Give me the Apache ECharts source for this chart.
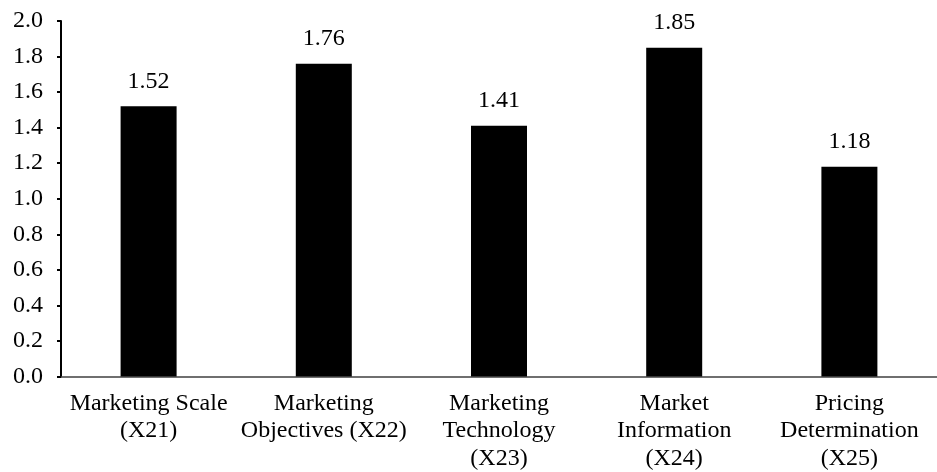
<!DOCTYPE html>
<html>
<head>
<meta charset="utf-8">
<script src="https://cdn.jsdelivr.net/npm/echarts@6/dist/echarts.min.js"></script>
<style>html,body{margin:0;padding:0;background:#fff}#c{width:937px;height:472px}</style>
</head>
<body>
<div id="c"></div>
<script>
var categories = ["Marketing Scale\n(X21)", "Marketing\nObjectives (X22)", "Marketing\nTechnology\n(X23)", "Market\nInformation\n(X24)", "Pricing\nDetermination\n(X25)"];
var values = [1.52, 1.76, 1.41, 1.85, 1.18];
var yTicks = [0, 0.2, 0.4, 0.6, 0.8, 1.0, 1.2, 1.4, 1.6, 1.8, 2.0];

var font = "'Liberation Serif', 'Times New Roman', serif";
var chart = echarts.init(document.getElementById('c'), null, {renderer: 'canvas'});
chart.setOption({
  animation: false,
  backgroundColor: '#fff',
  grid: {left: 61, right: -13, top: 21, bottom: 95.5},
  xAxis: {
    type: 'category',
    data: categories,
    axisLine: {show: true, lineStyle: {color: '#404040', width: 1.5}},
    axisTick: {show: false},
    axisLabel: {interval: 0, margin: 13, color: '#000', fontFamily: font, fontSize: 24, lineHeight: 27.5}
  },
  yAxis: {
    type: 'value',
    min: yTicks[0],
    max: yTicks[yTicks.length - 1],
    interval: 0.2,
    splitLine: {show: false},
    axisLine: {show: true, lineStyle: {color: '#000', width: 2}},
    axisTick: {show: true, inside: false, length: 4, lineStyle: {color: '#000', width: 2}},
    axisLabel: {margin: 18, color: '#000', fontFamily: font, fontSize: 24, formatter: function (v) { return v.toFixed(1); }}
  },
  series: [{
    type: 'bar',
    data: values,
    barWidth: 56,
    itemStyle: {color: '#000'},
    label: {show: true, position: 'top', distance: 13, color: '#000', fontFamily: font, fontSize: 24,
      formatter: function (p) { return p.value.toFixed(2); }}
  }]
});
</script>
</body>
</html>
